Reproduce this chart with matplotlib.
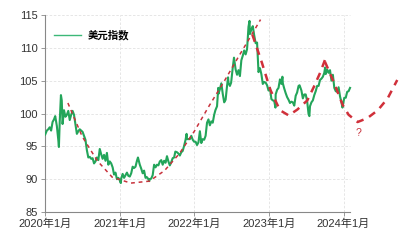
import matplotlib
matplotlib.use("Agg")
import matplotlib.pyplot as plt
import matplotlib.dates as mdates
import pandas as pd

plt.rcParams['font.family'] = ['Liberation Sans', 'Noto Sans CJK SC', 'DejaVu Sans']

dxy_dates = [
    "2020-01-02","2020-01-10","2020-01-17","2020-01-24","2020-01-31",
    "2020-02-07","2020-02-14","2020-02-20","2020-02-28",
    "2020-03-06","2020-03-09","2020-03-13","2020-03-19","2020-03-23","2020-03-27",
    "2020-04-03","2020-04-10","2020-04-17","2020-04-24",
    "2020-05-01","2020-05-08","2020-05-15","2020-05-22","2020-05-29",
    "2020-06-05","2020-06-12","2020-06-19","2020-06-26",
    "2020-07-03","2020-07-10","2020-07-17","2020-07-24","2020-07-31",
    "2020-08-07","2020-08-14","2020-08-21","2020-08-28",
    "2020-09-04","2020-09-11","2020-09-18","2020-09-25",
    "2020-10-02","2020-10-09","2020-10-16","2020-10-23","2020-10-30",
    "2020-11-06","2020-11-13","2020-11-20","2020-11-27",
    "2020-12-04","2020-12-11","2020-12-18","2020-12-25","2020-12-31",
    "2021-01-06","2021-01-08","2021-01-15","2021-01-22","2021-01-29",
    "2021-02-05","2021-02-12","2021-02-19","2021-02-26",
    "2021-03-05","2021-03-12","2021-03-19","2021-03-26","2021-03-31",
    "2021-04-09","2021-04-16","2021-04-23","2021-04-30",
    "2021-05-07","2021-05-14","2021-05-21","2021-05-25","2021-05-28",
    "2021-06-04","2021-06-11","2021-06-18","2021-06-25",
    "2021-07-02","2021-07-09","2021-07-16","2021-07-23","2021-07-30",
    "2021-08-06","2021-08-13","2021-08-20","2021-08-27",
    "2021-09-03","2021-09-10","2021-09-17","2021-09-24","2021-09-30",
    "2021-10-08","2021-10-15","2021-10-22","2021-10-29",
    "2021-11-05","2021-11-12","2021-11-19","2021-11-24","2021-11-26",
    "2021-12-03","2021-12-10","2021-12-17","2021-12-24","2021-12-31",
    "2022-01-07","2022-01-14","2022-01-21","2022-01-28",
    "2022-02-04","2022-02-11","2022-02-18","2022-02-25",
    "2022-03-04","2022-03-11","2022-03-18","2022-03-25",
    "2022-04-01","2022-04-08","2022-04-14","2022-04-22","2022-04-28","2022-04-29",
    "2022-05-06","2022-05-13","2022-05-20","2022-05-27",
    "2022-06-03","2022-06-10","2022-06-15","2022-06-17","2022-06-24","2022-06-30",
    "2022-07-08","2022-07-14","2022-07-22","2022-07-29",
    "2022-08-05","2022-08-12","2022-08-19","2022-08-26",
    "2022-09-02","2022-09-09","2022-09-16","2022-09-23","2022-09-28","2022-09-30",
    "2022-10-07","2022-10-14","2022-10-21","2022-10-28",
    "2022-11-04","2022-11-11","2022-11-18","2022-11-25",
    "2022-12-02","2022-12-09","2022-12-16","2022-12-23","2022-12-30",
    "2023-01-06","2023-01-13","2023-01-20","2023-01-27",
    "2023-02-02","2023-02-03","2023-02-10","2023-02-17","2023-02-24",
    "2023-03-03","2023-03-08","2023-03-10","2023-03-17","2023-03-24","2023-03-31",
    "2023-04-07","2023-04-14","2023-04-21","2023-04-28",
    "2023-05-05","2023-05-12","2023-05-19","2023-05-26","2023-05-31",
    "2023-06-09","2023-06-16","2023-06-23","2023-06-30",
    "2023-07-07","2023-07-14","2023-07-18","2023-07-21","2023-07-28",
    "2023-08-04","2023-08-11","2023-08-18","2023-08-25",
    "2023-09-01","2023-09-08","2023-09-15","2023-09-22","2023-09-29",
    "2023-10-03","2023-10-06","2023-10-13","2023-10-20","2023-10-27",
    "2023-11-03","2023-11-10","2023-11-17","2023-11-24",
    "2023-12-01","2023-12-08","2023-12-15","2023-12-22","2023-12-27","2023-12-29",
    "2024-01-05","2024-01-12","2024-01-19","2024-01-26","2024-02-02",
]
dxy_values = [
    96.8, 97.4, 97.6, 97.9, 97.4,
    98.7, 99.1, 99.6, 98.1,
    96.0, 94.9, 98.7, 102.8, 102.0, 98.4,
    100.5, 99.5, 99.8, 100.4,
    99.0, 99.8, 100.4, 99.8, 98.3,
    96.9, 97.3, 97.6, 97.4,
    97.2, 96.6, 96.0, 94.4, 93.3,
    93.4, 93.1, 93.2, 92.4,
    92.7, 93.3, 92.9, 94.6,
    93.8, 93.1, 93.7, 92.8, 94.0,
    92.2, 92.7, 92.4, 91.8,
    90.7, 91.0, 90.0, 90.2, 89.9,
    89.4, 90.1, 90.8, 90.2, 90.6,
    91.0, 90.5, 90.4, 90.9,
    91.9, 91.7, 91.9, 92.8, 93.3,
    92.2, 91.6, 90.9, 91.3,
    90.2, 90.3, 90.0, 89.7, 90.0,
    90.1, 90.6, 92.2, 91.8,
    92.2, 92.1, 92.7, 92.9, 92.2,
    92.8, 92.5, 93.5, 92.7,
    92.1, 92.6, 93.2, 93.3, 94.2,
    94.1, 93.9, 93.6, 94.1,
    94.3, 95.1, 96.0, 96.9, 96.1,
    96.1, 96.1, 96.6, 96.0, 95.7,
    95.7, 95.2, 95.6, 97.3,
    95.5, 96.1, 96.0, 96.6,
    98.6, 99.1, 98.2, 98.8,
    98.6, 99.8, 100.5, 101.1, 103.9, 103.0,
    103.7, 104.6, 103.0, 101.7,
    102.1, 104.2, 105.5, 104.7, 104.2, 104.7,
    107.0, 108.5, 106.7, 105.9,
    106.6, 105.7, 108.1, 108.8,
    109.6, 109.0, 109.8, 113.2, 114.1, 112.1,
    112.8, 113.3, 111.9, 110.7,
    110.8, 106.3, 106.9, 106.0,
    104.5, 104.8, 104.7, 104.3, 103.5,
    103.9, 102.2, 102.0, 101.9,
    100.9, 102.9, 103.6, 103.9, 105.2,
    104.5, 105.6, 104.6, 103.8, 103.1, 102.5,
    102.1, 101.6, 101.8, 101.7,
    101.2, 102.7, 103.2, 104.2, 104.3,
    103.5, 102.3, 102.9, 102.9,
    101.9, 99.9, 99.6, 101.1, 101.7,
    102.0, 102.8, 103.4, 104.2,
    104.2, 105.1, 105.3, 105.6, 106.2,
    107.0, 106.0, 106.7, 106.2, 106.6,
    105.0, 105.9, 103.9, 103.4,
    103.3, 104.0, 102.6, 101.7, 100.9, 101.3,
    102.4, 102.4, 103.3, 103.4, 103.9,
]

# dashed trend arcs (date, value)
arc1_dates = ["2020-04-22","2020-07-01","2020-09-13","2020-11-25","2021-02-24",
              "2021-05-26","2021-08-08","2021-10-20","2022-01-01","2022-03-15",
              "2022-05-27","2022-08-08","2022-10-01","2022-11-21"]
arc1_values = [101.6, 96.5, 92.8, 90.3, 89.4, 89.7, 91.3, 93.9, 97.3, 101.2,
               104.9, 108.8, 111.6, 114.3]
arc2_dates = ["2022-10-12","2022-11-28","2023-01-08","2023-02-24","2023-04-08",
              "2023-05-20","2023-07-08","2023-08-08","2023-09-10","2023-10-05"]
arc2_values = [112.0, 107.7, 103.6, 100.5, 99.7, 100.6, 102.0, 104.0, 106.3, 108.4]
arc3_dates = ["2023-10-02","2023-11-14","2023-12-28","2024-01-26","2024-03-10",
              "2024-04-27","2024-06-17","2024-08-04","2024-09-20"]
arc3_values = [107.9, 104.8, 101.3, 99.8, 98.7, 99.3, 100.5, 102.3, 105.1]

tick_dates = ["2020-01-01", "2021-01-01", "2022-01-01", "2023-01-01", "2024-01-01"]
tick_labels = ["2020年1月", "2021年1月", "2022年1月", "2023年1月", "2024年1月"]
y_ticks = [85, 90, 95, 100, 105, 110, 115]

fig = plt.figure(figsize=(4.07, 2.40), dpi=100)
ax = fig.add_axes([45/407, 1-212/240, 360/407, (212-15)/240])

xd = pd.to_datetime(dxy_dates)
x_end = pd.Timestamp("2024-02-04")
x_start = pd.Timestamp("2020-01-01")

# grid
for yv in y_ticks[1:]:
    ax.plot([x_start, x_end], [yv, yv], color='#e2e2e2', lw=0.6, ls=(0, (3, 2)), zorder=1)
for td in tick_dates[1:]:
    ax.axvline(pd.Timestamp(td), color='#e2e2e2', lw=0.6, ls=(0, (3, 2)), zorder=1)

ax.plot(xd, dxy_values, color='#23a55a', lw=1.5, zorder=3)
ax.plot(pd.to_datetime(arc1_dates), arc1_values, color='#c8323c', lw=1.1,
        ls=(0, (2.5, 2.5)), zorder=4, clip_on=False)
ax.plot(pd.to_datetime(arc2_dates), arc2_values, color='#d0303a', lw=1.8,
        ls=(0, (3, 2.5)), zorder=4, clip_on=False)
ax.plot(pd.to_datetime(arc3_dates), arc3_values, color='#d0303a', lw=1.8,
        ls=(0, (3, 2.5)), zorder=4, clip_on=False)
ax.text(pd.Timestamp("2024-03-15"), 97.0, "?", color='#c8323c', fontsize=7.5,
        ha='center', va='center')

# legend
leg_line, = ax.plot([], [], color='#3cb878', lw=1.0)
leg = ax.legend([leg_line], ["美元指数"], loc='upper left', frameon=False,
                bbox_to_anchor=(0.0, 0.97), handlelength=2.6, handletextpad=0.6,
                prop={'family': ['Noto Sans CJK SC'], 'weight': 'bold', 'size': 7.5})

ax.set_xlim(x_start, pd.Timestamp("2024-10-28"))
ax.set_ylim(85, 115)
ax.set_yticks(y_ticks)
ax.set_xticks(pd.to_datetime(tick_dates))
ax.set_xticklabels(tick_labels)
ax.tick_params(axis='both', labelsize=8, colors='#333333', length=3, width=0.6,
               direction='out', pad=2)
ax.tick_params(axis='x', colors='#888888', labelcolor='#333333')
ax.tick_params(axis='y', colors='#888888', labelcolor='#333333')
for s in ['top', 'right']:
    ax.spines[s].set_visible(False)
ax.spines['left'].set_color('#888888')
ax.spines['bottom'].set_color('#888888')
ax.spines['left'].set_linewidth(0.8)
ax.spines['bottom'].set_linewidth(0.8)
ax.spines['bottom'].set_bounds(mdates.date2num(x_start), mdates.date2num(x_end))

fig.savefig("out.png", dpi=100)
